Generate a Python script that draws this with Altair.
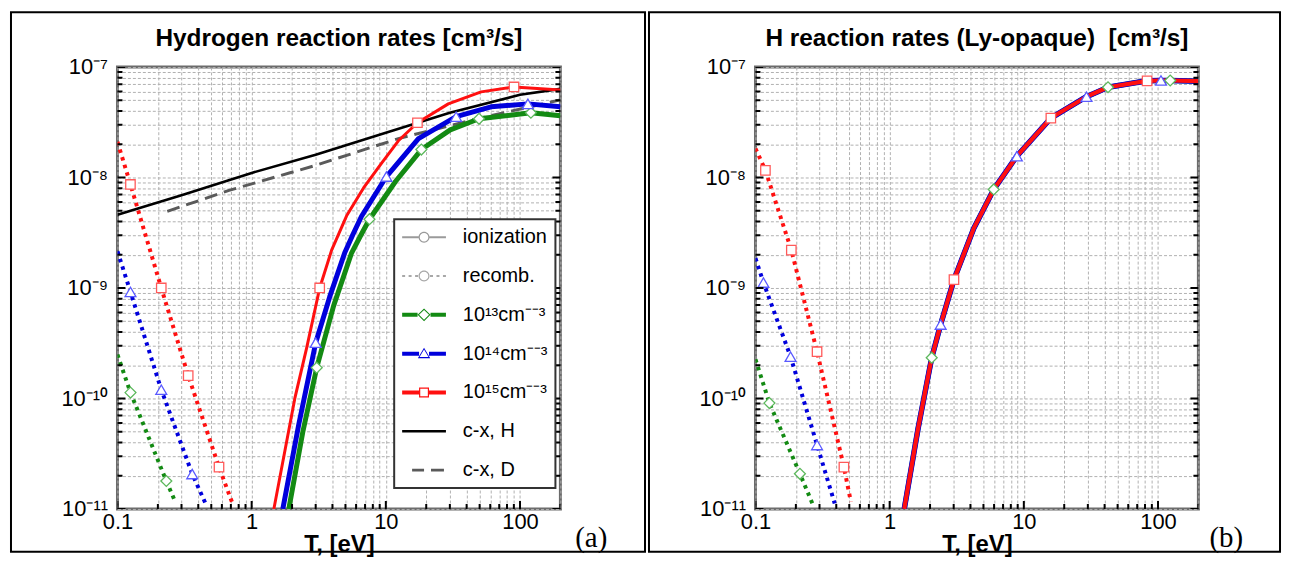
import altair as alt
import pandas as pd

FONT = "Liberation Sans"

# ---------------- axes / tick values ----------------
x_domain = [0.1, 200]
y_domain = [1e-11, 1e-7]
x_major = [0.1, 1, 10, 100]
x_major_labels = ["0.1", "1", "10", "100"]
x_minor = [0.2, 0.3, 0.4, 0.5, 0.6, 0.7, 0.8, 0.9, 2, 3, 4, 5, 6, 7, 8, 9,
           20, 30, 40, 50, 60, 70, 80, 90, 200]
y_major = [1e-11, 1e-10, 1e-9, 1e-8, 1e-7]
y_major_labels = ["10⁻¹¹", "10⁻¹⁰", "10⁻⁹", "10⁻⁸", "10⁻⁷"]
y_minor = [2e-11, 3e-11, 4e-11, 5e-11, 6e-11, 7e-11, 8e-11, 9e-11,
           2e-10, 3e-10, 4e-10, 5e-10, 6e-10, 7e-10, 8e-10, 9e-10,
           2e-9, 3e-9, 4e-9, 5e-9, 6e-9, 7e-9, 8e-9, 9e-9,
           2e-8, 3e-8, 4e-8, 5e-8, 6e-8, 7e-8, 8e-8, 9e-8]

# ---------------- texts ----------------
title_a = "Hydrogen reaction rates [cm³/s]"
title_b = "H reaction rates (Ly-opaque)\u00a0\u00a0[cm³/s]"
legend_keys = ["ionization", "recomb.", "10¹³cm⁻⁻³", "10¹⁴cm⁻⁻³", "10¹⁵cm⁻⁻³", "c-x, H", "c-x, D"]

# ---------------- panel (a): Hydrogen ----------------
a_ion13_T = [1.892, 2.403, 3.054, 4.08, 5.55, 6.48, 7.55, 11.8, 18.4, 30.2, 49.5, 120.5, 200]
a_ion13_R = [1e-11, 4.94e-11, 1.9e-10, 6.89e-10, 2.07e-9, 2.97e-9, 4.19e-9, 9.2e-9, 1.79e-8,
             2.7e-8, 3.4e-8, 3.86e-8, 3.62e-8]
a_ion14_T = [1.707, 2.245, 3.002, 3.814, 4.93, 5.65, 6.59, 10.1, 17.5, 33.4, 60.8, 114.5, 200]
a_ion14_R = [1e-11, 5.83e-11, 3.2e-10, 8.3e-10, 2.07e-9, 3.0e-9, 4.46e-9, 1.02e-8, 2.25e-8,
             3.55e-8, 4.36e-8, 4.64e-8, 4.36e-8]
a_ion15_T = [1.464, 2.097, 2.573, 3.214, 3.945, 5.1, 6.82, 9.27, 12.4, 17.2, 29.2, 51.3, 90.2, 200]
a_ion15_R = [1e-11, 1.0e-10, 2.88e-10, 1e-9, 2.2e-9, 4.5e-9, 8.04e-9, 1.34e-8, 2.15e-8, 3.13e-8,
             4.64e-8, 5.96e-8, 6.6e-8, 6.2e-8]

a_rec13_T = [0.1, 0.125, 0.2312, 0.2696]
a_rec13_R = [2.49e-10, 1.13e-10, 1.79e-11, 1.16e-11]
a_rec14_T = [0.1, 0.125, 0.212, 0.3606, 0.458]
a_rec14_R = [2.15e-9, 9.2e-10, 1.2e-10, 2.07e-11, 1.09e-11]
a_rec15_T = [0.1, 0.1249, 0.212, 0.3365, 0.571, 0.726]
a_rec15_R = [2.1e-8, 8.65e-9, 1e-9, 1.61e-10, 2.39e-11, 1.09e-11]

a_cxH_T = [0.1, 0.3, 1, 3, 10, 30, 100, 200]
a_cxH_R = [4.6e-9, 6.9e-9, 1.1e-8, 1.61e-8, 2.54e-8, 3.86e-8, 5.6e-8, 6.34e-8]
a_cxD_T = [0.235, 0.678, 2.95, 12.4, 43.3, 200]
a_cxD_R = [4.94e-9, 7.64e-9, 1.28e-8, 2.25e-8, 3.3e-8, 5.04e-8]

# markers (panel a)
a_m13_T = [0.125, 0.2312, 3.054, 7.55, 18.4, 49.5, 120.5]
a_m13_R = [1.13e-10, 1.79e-11, 1.9e-10, 4.19e-9, 1.79e-8, 3.4e-8, 3.86e-8]
a_m14_T = [0.125, 0.212, 0.3606, 3.002, 10.1, 33.4, 114.5]
a_m14_R = [9.2e-10, 1.2e-10, 2.07e-11, 3.2e-10, 1.02e-8, 3.55e-8, 4.64e-8]
a_m15_T = [0.1249, 0.212, 0.3365, 0.571, 3.214, 17.2, 90.2]
a_m15_R = [8.65e-9, 1e-9, 1.61e-10, 2.39e-11, 1e-9, 3.13e-8, 6.6e-8]

# ---------------- panel (b): Ly-opaque ----------------
b_ion_T = [1.285, 1.626, 2.058, 2.399, 3.015, 4.24, 5.965, 8.87, 15.9, 29.3, 42.4, 82.9, 105.2,
           123.3, 200]
b_ion_R = [1e-11, 5.3e-11, 2.34e-10, 4.67e-10, 1.19e-9, 3.48e-9, 7.8e-9, 1.56e-8, 3.45e-8,
           5.39e-8, 6.56e-8, 7.5e-8, 7.55e-8, 7.55e-8, 7.45e-8]

b_rec13_T = [0.1, 0.127, 0.2144, 0.269]
b_rec13_R = [2.26e-10, 9.08e-11, 2.08e-11, 1.08e-11]
b_rec14_T = [0.1, 0.1146, 0.1826, 0.2877, 0.3894]
b_rec14_R = [1.86e-9, 1.12e-9, 2.39e-10, 3.79e-11, 1.12e-11]
b_rec15_T = [0.1, 0.1186, 0.185, 0.2877, 0.456, 0.514]
b_rec15_R = [1.83e-8, 1.16e-8, 2.2e-9, 2.65e-10, 2.39e-11, 1.16e-11]

b_m13_T = [0.127, 0.2144, 2.058, 5.965, 42.4, 123.3]
b_m13_R = [9.08e-11, 2.08e-11, 2.34e-10, 7.8e-9, 6.56e-8, 7.55e-8]
b_m14_T = [0.1146, 0.1826, 0.2877, 2.399, 8.87, 29.3, 105.2]
b_m14_R = [1.12e-9, 2.39e-10, 3.79e-11, 4.67e-10, 1.56e-8, 5.39e-8, 7.55e-8]
b_m15_T = [0.1186, 0.185, 0.2877, 0.456, 3.015, 15.9, 82.9]
b_m15_R = [1.16e-8, 2.2e-9, 2.65e-10, 2.39e-11, 1.19e-9, 3.45e-8, 7.5e-8]

# ---------------- styling ----------------
GREEN, BLUE, RED = "#138a13", "#0000dc", "#ff1010"
GREEN_M, BLUE_M, RED_M = "#5cb85c", "#5a5aff", "#ff5a5a"
legend_colors = ["#9a9a9a", "#a8a8a8", GREEN, BLUE, RED, "#000000", "#5a5a5a"]


def rect(x0, x1, h):
    return f"M{x0},{-h}H{x1}V{h}H{x0}Z"


RING_CIRCLE = ("M0.55,0A0.55,0.55 0 1,1 -0.55,0A0.55,0.55 0 1,1 0.55,0Z"
               "M0.43,0A0.43,0.43 0 1,0 -0.43,0A0.43,0.43 0 1,0 0.43,0Z")
RING_DIAMOND = "M0,-0.65L0.65,0L0,0.65L-0.65,0ZM0,-0.5L-0.5,0L0,0.5L0.5,0Z"
RING_TRI = "M0,-0.6L0.62,0.45L-0.62,0.45ZM0,-0.42L-0.45,0.33L0.45,0.33Z"
RING_SQ = "M-0.5,-0.5H0.5V0.5H-0.5ZM-0.38,-0.38V0.38H0.38V-0.38Z"

legend_paths = [
    rect(-2.2, -0.55, 0.1) + rect(0.55, 2.2, 0.1) + RING_CIRCLE,
    rect(-2.2, -1.9, 0.1) + rect(-1.55, -1.25, 0.1) + rect(-0.9, -0.6, 0.1)
    + rect(0.6, 0.9, 0.1) + rect(1.25, 1.55, 0.1) + rect(1.9, 2.2, 0.1) + RING_CIRCLE,
    rect(-2.2, -0.65, 0.2) + rect(0.65, 2.2, 0.2) + RING_DIAMOND,
    rect(-2.2, -0.5, 0.2) + rect(0.5, 2.2, 0.2) + RING_TRI,
    rect(-2.2, -0.5, 0.2) + rect(0.5, 2.2, 0.2) + RING_SQ,
    rect(-2.2, 2.2, 0.13),
    rect(-1.2, 0.0, 0.13) + rect(0.7, 2.0, 0.13),
]

W, H = 445, 444

XS = alt.Scale(type="log", domain=x_domain, nice=False)
YS = alt.Scale(type="log", domain=y_domain, nice=False)


def label_expr(vals, texts):
    parts = [f"abs(datum.value / {v} - 1) < 1e-6 ? '{t}'" for v, t in zip(vals, texts)]
    return " : ".join(parts) + " : ''"


GRID = dict(grid=True, gridDash=[3, 2], gridColor="#b0b0b0", gridWidth=1,
            ticks=False, domain=False, labelFont=FONT, labelFontSize=22,
            labelColor="black", labelFlush=False, labelOverlap=False)

XAXIS = alt.Axis(values=sorted(x_major + x_minor), labelExpr=label_expr(x_major, x_major_labels),
                 title="T, [eV]", titleFont=FONT, titleFontSize=24, titleFontWeight="bold",
                 titleColor="black", titlePadding=0, labelPadding=3, **GRID)
YAXIS = alt.Axis(values=sorted(y_major + y_minor), labelExpr=label_expr(y_major, y_major_labels),
                 title=None, labelPadding=10, **GRID)


def X(f):
    return alt.X(f"{f}:Q", scale=XS, axis=XAXIS)


def Y(f):
    return alt.Y(f"{f}:Q", scale=YS, axis=YAXIS)


def df(T, R):
    return pd.DataFrame({"T": T, "R": R})


def line(T, R, color, width, dash=None):
    kw = dict(color=color, strokeWidth=width, clip=True, strokeJoin="round")
    if dash:
        kw["strokeDash"] = dash
    return alt.Chart(df(T, R)).mark_line(**kw).encode(x=X("T"), y=Y("R"))


def marks(T, R, shape, stroke, size):
    return alt.Chart(df(T, R)).mark_point(
        shape=shape, filled=True, fill="white", stroke=stroke, strokeWidth=1.3,
        size=size, opacity=1, clip=True).encode(x=X("T"), y=Y("R"))


def xticks(vals, length):
    return alt.Chart(pd.DataFrame({"v": vals})).mark_tick(
        color="black", thickness=2, size=2 * length, clip=True, opacity=1
    ).encode(x=X("v"), y=alt.value(H))


def yticks(vals, length, xpos):
    return alt.Chart(pd.DataFrame({"v": vals})).mark_tick(
        color="black", thickness=2, size=2 * length, clip=True, opacity=1
    ).encode(y=Y("v"), x=alt.value(xpos))


def legend_layer(n):
    keys = legend_keys[:n]
    leg = alt.Legend(title=None, orient="none", legendX=278, legendY=153, direction="vertical",
                     fillColor="white", strokeColor="#333333", padding=8,
                     labelFont=FONT, labelFontSize=20, labelColor="black", labelOffset=29,
                     symbolSize=400, symbolOffset=12, symbolStrokeWidth=0, rowPadding=19,
                     labelLimit=220)
    d = pd.DataFrame({"key": keys, "T": [1] * n, "R": [1e-20] * n})
    return alt.Chart(d).mark_point(filled=True, opacity=1, clip=True, strokeWidth=0).encode(
        x=X("T"), y=Y("R"),
        color=alt.Color("key:N", scale=alt.Scale(domain=keys, range=legend_colors[:n]), legend=leg),
        shape=alt.Shape("key:N", scale=alt.Scale(domain=keys, range=legend_paths[:n]), legend=leg),
    )


def decor(x2, tag, title):
    fr = alt.Chart(pd.DataFrame({"t": [tag]})).mark_rect(
        fill="transparent", stroke="black", strokeWidth=2
    ).encode(x=alt.value(-107), x2=alt.value(x2), y=alt.value(-55), y2=alt.value(487))
    tx = alt.Chart(pd.DataFrame({"t": [tag]})).mark_text(
        font="Liberation Serif", fontSize=29, align="center", baseline="alphabetic", color="black"
    ).encode(x=alt.value(x2 - 54), y=alt.value(482), text="t:N")
    tt = alt.Chart(pd.DataFrame({"t": [title]})).mark_text(
        font=FONT, fontSize=24.5, fontWeight="bold", align="center", baseline="alphabetic",
        color="black"
    ).encode(x=alt.value(W / 2), y=alt.value(-21), text="t:N")
    return [fr, tx, tt]


def ticks_layers():
    return [xticks(x_major, 8), xticks(x_minor, 5),
            yticks(y_major, 8, 0), yticks(y_minor, 5, 0),
            yticks(y_major, 8, W), yticks(y_minor, 5, W)]


left_layers = (
    decor(530, "(a)", title_a)
    + [
        line(a_cxD_T, a_cxD_R, "#5a5a5a", 3, [13, 7]),
        line(a_cxH_T, a_cxH_R, "#000000", 2.6),
        line(a_rec13_T, a_rec13_R, GREEN, 4, [3.5, 4.5]),
        line(a_rec14_T, a_rec14_R, BLUE, 4, [3.5, 4.5]),
        line(a_rec15_T, a_rec15_R, RED, 4, [3.5, 4.5]),
        line(a_ion13_T, a_ion13_R, GREEN, 5),
        line(a_ion14_T, a_ion14_R, BLUE, 5),
        line(a_ion15_T, a_ion15_R, RED, 3),
        marks(a_m13_T, a_m13_R, "diamond", GREEN_M, 120),
        marks(a_m14_T, a_m14_R, "triangle-up", BLUE_M, 120),
        marks(a_m15_T, a_m15_R, "square", RED_M, 90),
    ]
    + ticks_layers()
    + [legend_layer(7)]
)

right_layers = (
    decor(527, "(b)", title_b)
    + [
        line(b_rec13_T, b_rec13_R, GREEN, 4, [3.5, 4.5]),
        line(b_rec14_T, b_rec14_R, BLUE, 4, [3.5, 4.5]),
        line(b_rec15_T, b_rec15_R, RED, 4, [3.5, 4.5]),
        line(b_ion_T, b_ion_R, GREEN, 5),
        line(b_ion_T, b_ion_R, BLUE, 5.5),
        line(b_ion_T, b_ion_R, RED, 4.2),
        marks(b_m13_T, b_m13_R, "diamond", GREEN_M, 120),
        marks(b_m14_T, b_m14_R, "triangle-up", BLUE_M, 120),
        marks(b_m15_T, b_m15_R, "square", RED_M, 90),
    ]
    + ticks_layers()
    + [legend_layer(5)]
)

left = alt.layer(*left_layers).properties(width=W, height=H)
right = alt.layer(*right_layers).properties(width=W, height=H)

chart = (
    alt.hconcat(left, right, spacing=-2)
    .properties(padding=0, background="white")
    .configure_view(stroke="#6b6b6b", strokeWidth=3)
    .configure_legend(strokeWidth=2)
)

chart.save("out.html", embed_options={"renderer": "svg", "actions": False})
